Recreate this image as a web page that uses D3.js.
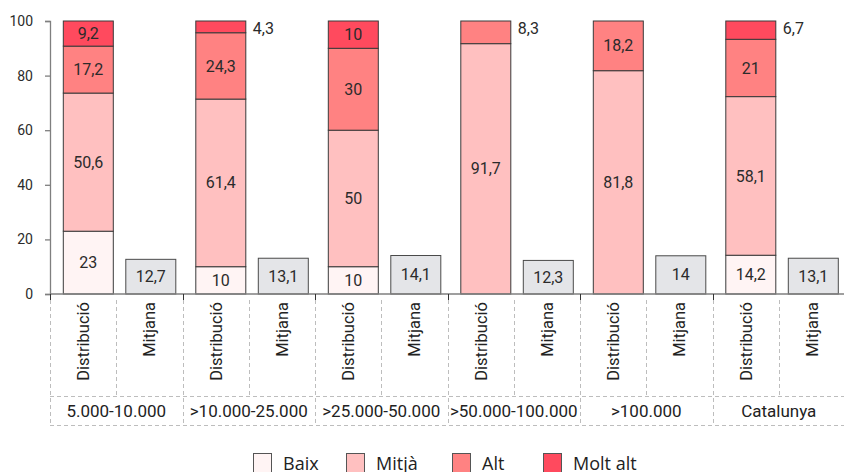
<!DOCTYPE html>
<html><head><meta charset="utf-8">
<script src="https://cdn.jsdelivr.net/npm/d3@7"></script>
<style>
html,body{margin:0;padding:0;background:#fff;}
svg{display:block;}
</style></head>
<body>
<svg id="c" width="844" height="472"></svg>
<script>
const groups = ["5.000-10.000", ">10.000-25.000", ">25.000-50.000", ">50.000-100.000", ">100.000", "Catalunya"];
const subCats = ["Distribució", "Mitjana"];
const levels = ["Baix", "Mitjà", "Alt", "Molt alt"];
const baix    = [23, 10, 10, 0, 0, 14.2];
const mitja   = [50.6, 61.4, 50, 91.7, 81.8, 58.1];
const alt     = [17.2, 24.3, 30, 8.3, 18.2, 21];
const moltAlt = [9.2, 4.3, 10, 0, 0, 6.7];
const mitjana = [12.7, 13.1, 14.1, 12.3, 14, 13.1];
const yTicks = [0, 20, 40, 60, 80, 100];
const levelColors = ["#fff4f4", "#ffc0c0", "#ff8282", "#ff4a5e"];
const mitjanaColor = "#e4e5e8";

const svg = d3.select("#c");
const fmt = v => String(v).replace(".", ",");

const x0 = d3.scaleBand().domain(groups).range([50, 845]).padding(0);
const x1 = d3.scaleBand().domain(subCats).range([13.3, 125.8]).paddingInner(0.2).paddingOuter(0);
const xCell = d3.scaleBand().domain(subCats).range([0, x0.bandwidth()]).padding(0);
const y = d3.scaleLinear().domain([0, 100]).range([294, 21]);

const color = d3.scaleOrdinal().domain(levels).range(levelColors);

// stacked data
const table = groups.map((g, i) => ({group: g, "Baix": baix[i], "Mitjà": mitja[i], "Alt": alt[i], "Molt alt": moltAlt[i]}));
const stack = d3.stack().keys(levels)(table);

// dashed category grid
const grid = svg.append("g").attr("stroke", "#bdbdbd").attr("stroke-dasharray", "4,3").attr("stroke-width", 1);
grid.append("line").attr("x1", 50).attr("x2", 844).attr("y1", 396.5).attr("y2", 396.5);
grid.append("line").attr("x1", 50).attr("x2", 844).attr("y1", 425.5).attr("y2", 425.5);
groups.forEach(g => {
  const gx = Math.round(x0(g)) + 0.5;
  grid.append("line").attr("x1", gx).attr("x2", gx).attr("y1", 300).attr("y2", 425);
  const sx = Math.round(x0(g) + xCell("Mitjana")) + 0.5;
  grid.append("line").attr("x1", sx).attr("x2", sx).attr("y1", 300).attr("y2", 396);
});

// stacked bars
const barG = svg.append("g");
stack.forEach(layer => {
  layer.forEach((d, i) => {
    if (d[1] - d[0] <= 0) return;
    barG.append("rect")
      .attr("x", x0(groups[i]) + x1("Distribució"))
      .attr("width", x1.bandwidth())
      .attr("y", y(d[1]))
      .attr("height", y(d[0]) - y(d[1]))
      .attr("fill", color(layer.key))
      .attr("stroke", "#3a3a3a").attr("stroke-width", 1);
  });
});
// mitjana bars
mitjana.forEach((v, i) => {
  barG.append("rect")
    .attr("x", x0(groups[i]) + x1("Mitjana"))
    .attr("width", x1.bandwidth())
    .attr("y", y(v))
    .attr("height", y(0) - y(v))
    .attr("fill", mitjanaColor)
    .attr("stroke", "#4a4a4a").attr("stroke-width", 1);
});

// value labels
const lab = svg.append("g").attr("font-family", "Roboto, sans-serif").attr("font-size", 16).attr("fill", "#2b2b2b");
stack.forEach(layer => {
  layer.forEach((d, i) => {
    const v = d[1] - d[0];
    if (v <= 0) return;
    const v0 = table[i][layer.key];
    if (v < 9) {
      lab.append("text")
        .attr("x", x0(groups[i]) + x1("Distribució") + x1.bandwidth() + 7)
        .attr("y", y(100) + 7.5).attr("dy", "0.35em")
        .text(fmt(v0));
    } else {
      lab.append("text")
        .attr("x", x0(groups[i]) + x1("Distribució") + x1.bandwidth() / 2)
        .attr("y", (y(d[0]) + y(d[1])) / 2).attr("dy", "0.35em")
        .attr("text-anchor", "middle")
        .text(fmt(v0));
    }
  });
});
mitjana.forEach((v, i) => {
  lab.append("text")
    .attr("x", x0(groups[i]) + x1("Mitjana") + x1.bandwidth() / 2)
    .attr("y", (y(v) + y(0)) / 2).attr("dy", "0.35em")
    .attr("text-anchor", "middle")
    .text(fmt(v));
});

// y axis
const yAxis = svg.append("g").attr("transform", "translate(50,0)")
  .call(d3.axisLeft(y).tickValues(yTicks).tickSize(5).tickPadding(12).tickFormat(d => d));
yAxis.selectAll("path,line").attr("stroke", "#7f7f7f").attr("stroke-width", 1.3);
yAxis.selectAll("text").attr("font-family", "Roboto, sans-serif").attr("font-size", 14).attr("fill", "#2b2b2b");

// x axis line and group ticks
const xa = svg.append("g");
xa.append("line").attr("x1", 50).attr("x2", 844).attr("y1", y(0)).attr("y2", y(0)).attr("stroke", "#7f7f7f").attr("stroke-width", 1.3);
groups.forEach(g => {
  const gx = Math.round(x0(g)) + 0.5;
  xa.append("line").attr("x1", gx).attr("x2", gx).attr("y1", y(0)).attr("y2", y(0) + 6).attr("stroke", "#333").attr("stroke-width", 1);
});

// sub-category labels (rotated)
const sub = svg.append("g").attr("font-family", "Roboto, sans-serif").attr("font-size", 16.5).attr("fill", "#222");
groups.forEach(g => {
  subCats.forEach(s => {
    const cx = x0(g) + xCell(s) + xCell.bandwidth() / 2;
    sub.append("text")
      .attr("transform", `translate(${cx},302) rotate(-90)`)
      .attr("text-anchor", "end").attr("dy", "0.36em")
      .text(s);
  });
});

// group labels
const gl = svg.append("g").attr("font-family", "Roboto, sans-serif").attr("font-size", 17).attr("fill", "#222");
groups.forEach(g => {
  gl.append("text")
    .attr("x", x0(g) + x0.bandwidth() / 2)
    .attr("y", 411).attr("dy", "0.35em")
    .attr("text-anchor", "middle")
    .text(g);
});

// legend
const legX = [253, 346, 452, 543];
const leg = svg.append("g");
levels.forEach((l, i) => {
  leg.append("rect").attr("x", legX[i] + 0.5).attr("y", 453.5).attr("width", 18).attr("height", 19)
    .attr("fill", levelColors[i]).attr("stroke", "#555").attr("stroke-width", 1);
  leg.append("text").attr("x", legX[i] + 30).attr("y", 470)
    .attr("font-family", "'Open Sans', sans-serif").attr("font-size", 18).attr("fill", "#222")
    .text(l);
});
</script>
</body></html>
